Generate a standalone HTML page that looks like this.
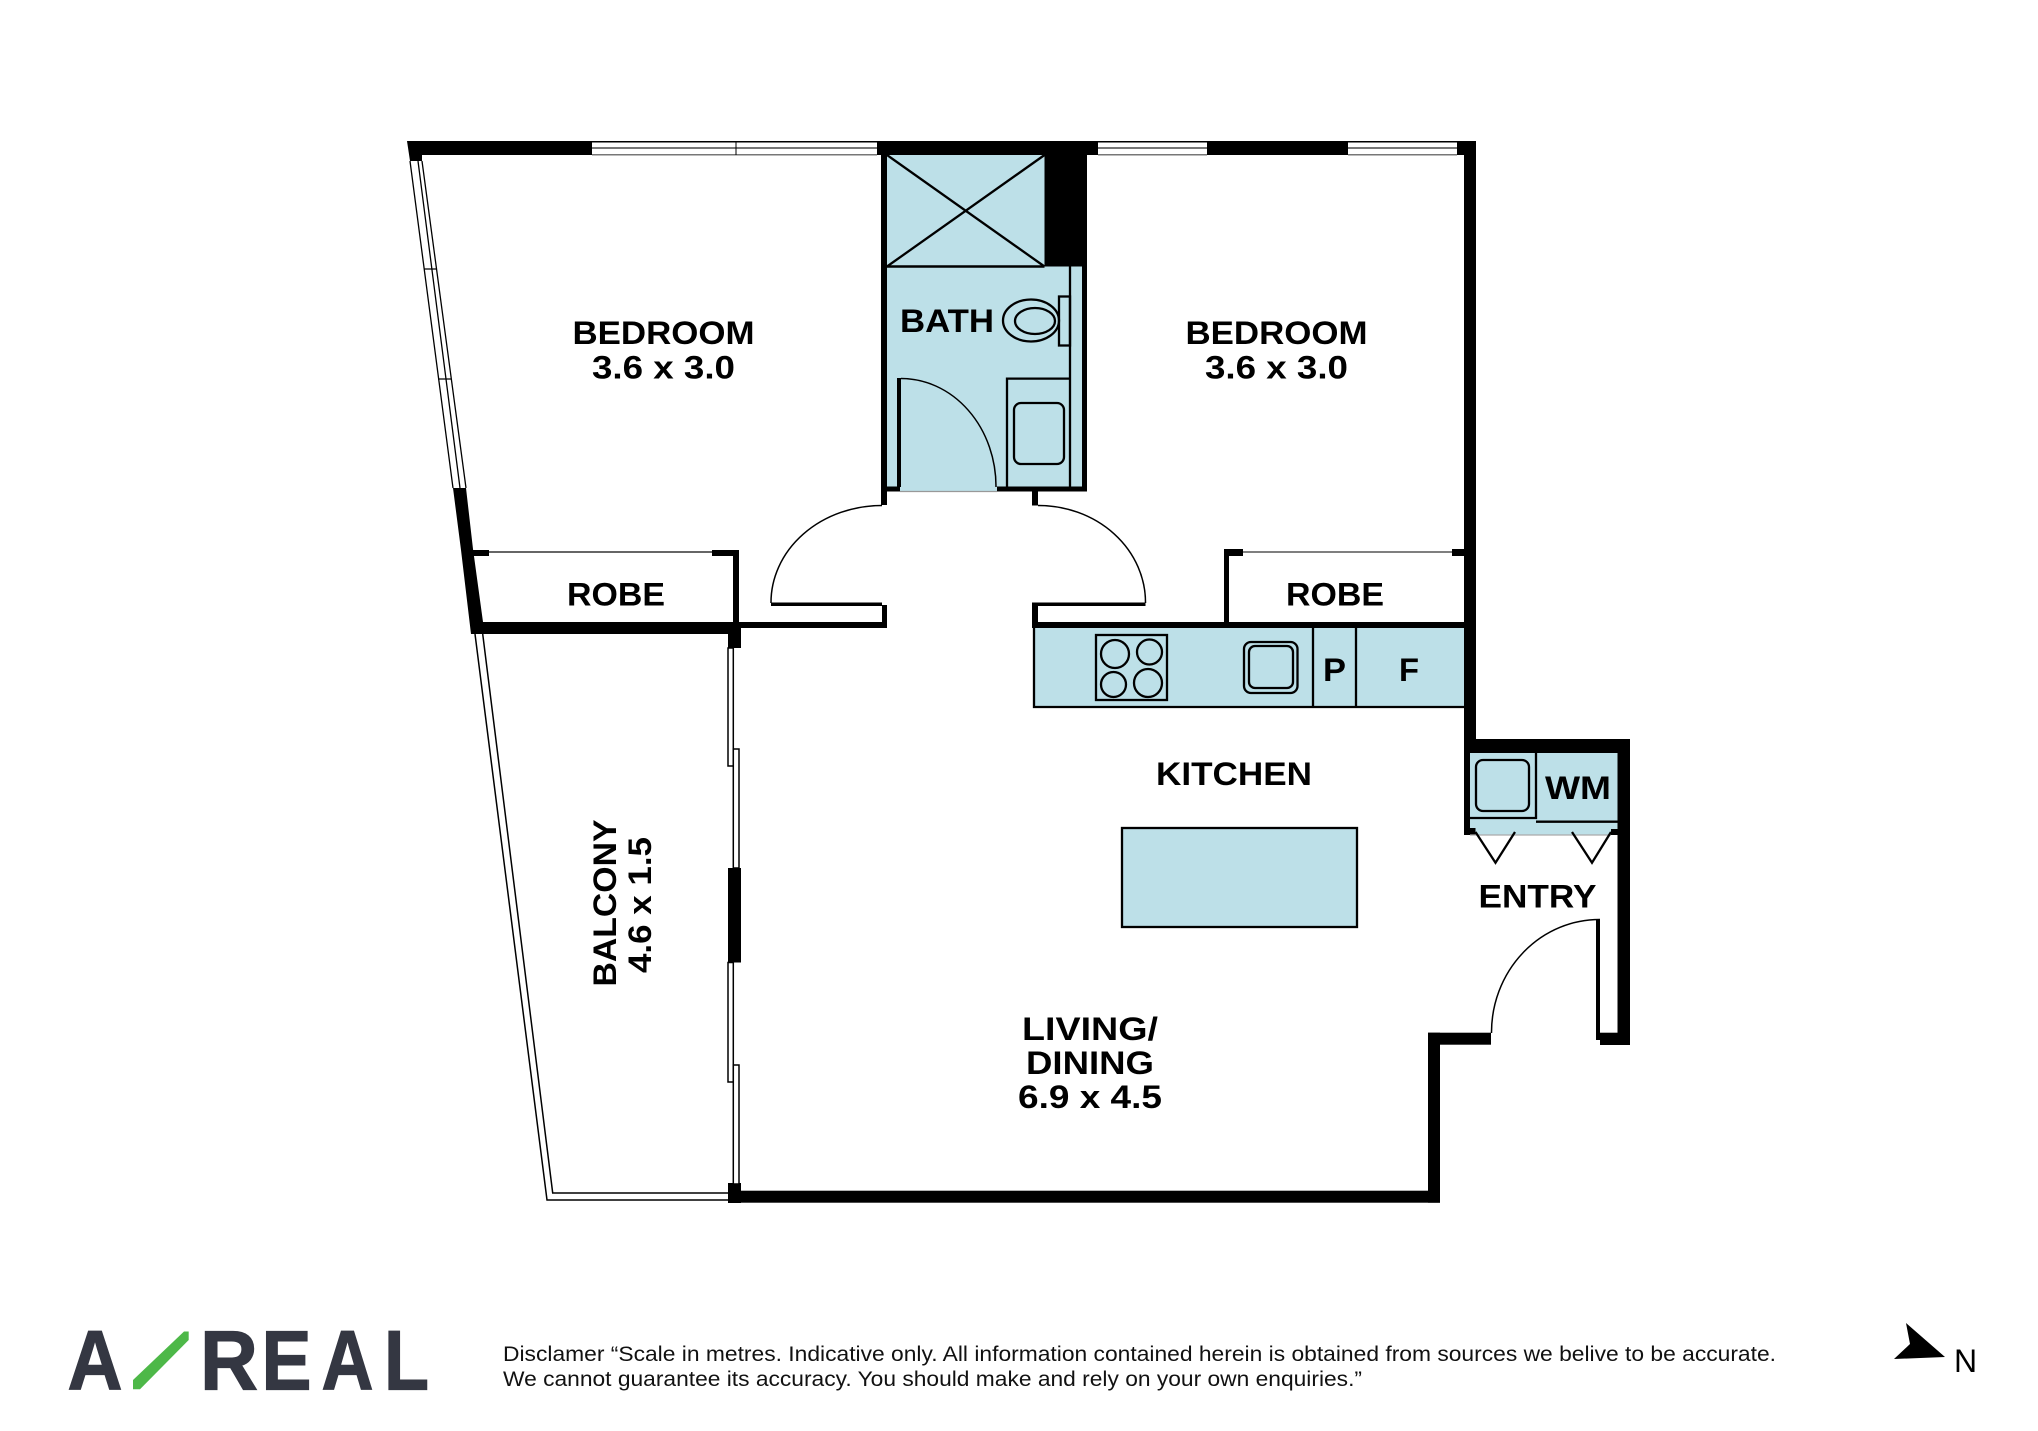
<!DOCTYPE html>
<html><head><meta charset="utf-8"><style>
html,body{margin:0;padding:0;background:#fff}
svg{display:block}
text{font-family:"Liberation Sans",sans-serif}
.l{font-weight:700;font-size:32.7px;fill:#000}
.k{font-weight:700;font-size:84px;fill:#343742;stroke:#343742;stroke-width:1.2px}
.d{font-size:21.5px;fill:#111}
</style></head><body>
<svg width="2038" height="1431" viewBox="0 0 2038 1431" xmlns="http://www.w3.org/2000/svg">
<rect width="2038" height="1431" fill="#fff"/>

<!-- blue fills -->
<g fill="#bde0e8">
<rect x="881" y="155" width="206" height="336.5"/>
<rect x="1034" y="627" width="430" height="80"/>
<rect x="1122" y="828" width="235" height="99"/>
<rect x="1470" y="752" width="148" height="83"/>
</g>

<!-- top windows -->
<g>
<rect x="592" y="141" width="285" height="14" fill="#fff"/>
<rect x="1098" y="141" width="109" height="14" fill="#fff"/>
<rect x="1348" y="141" width="109" height="14" fill="#fff"/>
<g fill="#000"><rect x="592" y="141" width="285" height="1.5"/><rect x="1098" y="141" width="109" height="1.5"/><rect x="1348" y="141" width="109" height="1.5"/></g>
<g fill="#777">
<rect x="592" y="147" width="285" height="2"/><rect x="592" y="154" width="285" height="1.5"/>
<rect x="1098" y="147" width="109" height="2"/><rect x="1098" y="154" width="109" height="1.5"/>
<rect x="1348" y="147" width="109" height="2"/><rect x="1348" y="154" width="109" height="1.5"/>
</g>
<rect x="735.5" y="141" width="1" height="14" fill="#000"/>
</g>

<!-- left angled window -->
<g stroke="#000" stroke-width="1.3" fill="none">
<path d="M410 161L453 488M418 161L460 488M422 161L466 488"/>
<path d="M424 269L437 269M438 379L451 379"/>
</g>

<!-- solid walls -->
<g fill="#000">
<polygon points="407,141 592,141 592,155 422,155 422,161 410,161"/>
<rect x="877" y="141" width="221" height="14"/>
<rect x="1207" y="141" width="141" height="14"/>
<rect x="1457" y="141" width="19" height="14"/>
<polygon points="453,488 466,488 473,549 483,622 483,634 471,634 461,550"/>
<!-- robe 1 -->
<rect x="471" y="622" width="268" height="12"/>
<rect x="473" y="550" width="16" height="6"/>
<rect x="712" y="550" width="27" height="6"/>
<rect x="733" y="550" width="6" height="75"/>
<rect x="728" y="622" width="13" height="26"/>
<rect x="741" y="622" width="146" height="6"/>
<rect x="882" y="605" width="5" height="23"/>
<rect x="771" y="602.5" width="111" height="3.5"/>
<!-- bath -->
<rect x="881" y="155" width="6" height="350"/>
<rect x="1044.5" y="155" width="42.5" height="111.5"/>
<rect x="1082" y="266" width="5" height="225.5"/>
<rect x="881" y="486.5" width="19" height="5"/>
<rect x="997" y="486.5" width="90" height="5"/>
<rect x="897" y="378" width="4" height="109"/>
<!-- right door jamb -->
<rect x="1032" y="491" width="6" height="14.5"/>
<rect x="1032" y="602.5" width="113.5" height="3.5"/>
<rect x="1032" y="604" width="6" height="24"/>
<rect x="1032" y="622" width="432" height="6"/>
<!-- robe 2 -->
<rect x="1224" y="549" width="5" height="75"/>
<rect x="1224" y="549" width="19" height="7"/>
<rect x="1452" y="549" width="12" height="7"/>
<!-- right wall -->
<rect x="1464" y="141" width="12" height="612"/>
<rect x="1464" y="739" width="166" height="14"/>
<rect x="1464" y="739" width="6" height="96"/>
<rect x="1464" y="828" width="11.5" height="7"/>
<rect x="1611" y="829" width="19" height="6"/>
<rect x="1617.5" y="739" width="12.5" height="306"/>
<rect x="1600" y="1032.7" width="30" height="12.3"/>
<rect x="1596" y="919" width="4" height="121"/>
<rect x="1428" y="1032.7" width="63" height="12"/>
<rect x="1428" y="1032.7" width="12" height="170"/>
<rect x="728" y="1190.7" width="712" height="12"/>
<rect x="728" y="1183" width="13" height="20"/>
<rect x="728" y="868" width="13" height="94.5"/>
</g>

<!-- thin lines -->
<g fill="none" stroke="#000" stroke-width="1.5">
<path d="M489 552H712" stroke="#333"/>
<path d="M1243 552H1452" stroke="#555"/>
<path d="M771 603A111 97 0 0 1 882 505.5"/>
<path d="M1038 505.5A107 97 0 0 1 1145.5 603"/>
<path d="M901 378.5A95 108 0 0 1 996 487"/>
<path d="M1600 919.5A108 113 0 0 0 1491.5 1033"/>
</g>
<path d="M900 491.5H997" stroke="#999" stroke-width="1.2"/>
<path d="M1470 835H1611" stroke="#aaa" stroke-width="1.2"/>

<!-- bath fixtures -->
<g fill="none" stroke="#000" stroke-width="2.3">
<path d="M887 155L1044.5 266.5M1044.5 155L887 266.5"/>
<path d="M887 266.5H1044.5" stroke-width="2.6"/>
<path d="M1070 266V487"/>
<rect x="1059" y="296.5" width="11" height="49"/>
<ellipse cx="1031" cy="320.5" rx="28" ry="21"/>
<ellipse cx="1035" cy="321" rx="20" ry="13"/>
<path d="M1007 487V378.6H1070"/>
<rect x="1014" y="403" width="50" height="61" rx="7"/>
</g>

<!-- kitchen fixtures -->
<g fill="none" stroke="#000" stroke-width="2.3">
<path d="M1034 627V707H1464"/>
<path d="M1313 627V707M1356 627V707"/>
<rect x="1096" y="635" width="71" height="65"/>
<circle cx="1115" cy="654" r="14"/><circle cx="1149.500" cy="652" r="12.500"/>
<circle cx="1113.500" cy="684.500" r="12.500"/><circle cx="1148" cy="683" r="14"/>
<rect x="1244" y="642" width="53.500" height="51" rx="7"/>
<rect x="1249" y="646" width="44" height="42" rx="6"/>
<rect x="1122" y="828" width="235" height="99"/>
<path d="M1470 818H1536V753M1536 821.700H1617.500"/>
<rect x="1476" y="760" width="53" height="51" rx="7"/>
<path d="M1475.500 832L1495.500 862.700L1515 832M1572 832L1592 862.700L1611 832"/>
</g>

<!-- balcony -->
<g fill="none" stroke="#000" stroke-width="1.500">
<path d="M475 634L547 1200H728"/>
<path d="M482.700 634L552.700 1193H728"/>
<rect x="728" y="648" width="5.300" height="118" fill="#fff"/>
<rect x="733.300" y="749" width="5.700" height="119" fill="#fff"/>
<rect x="728" y="962.500" width="5.300" height="119.500" fill="#fff"/>
<rect x="733.300" y="1065" width="5.700" height="119" fill="#fff"/>
</g>

<!-- labels -->
<text class="l" x="572.500" y="344" textLength="182" lengthAdjust="spacingAndGlyphs">BEDROOM</text>
<text class="l" x="592" y="378.500" textLength="143" lengthAdjust="spacingAndGlyphs">3.6 x 3.0</text>
<text class="l" x="1185.500" y="344" textLength="182" lengthAdjust="spacingAndGlyphs">BEDROOM</text>
<text class="l" x="1205" y="378.500" textLength="143" lengthAdjust="spacingAndGlyphs">3.6 x 3.0</text>
<text class="l" x="567" y="605.500" textLength="98" lengthAdjust="spacingAndGlyphs">ROBE</text>
<text class="l" x="1286" y="605.500" textLength="98" lengthAdjust="spacingAndGlyphs">ROBE</text>
<text class="l" x="900" y="332" textLength="94" lengthAdjust="spacingAndGlyphs">BATH</text>
<text class="l" x="1323" y="681" textLength="23" lengthAdjust="spacingAndGlyphs">P</text>
<text class="l" x="1399" y="681" textLength="20" lengthAdjust="spacingAndGlyphs">F</text>
<text class="l" x="1156" y="785" textLength="156" lengthAdjust="spacingAndGlyphs">KITCHEN</text>
<text class="l" x="1545" y="799" textLength="66" lengthAdjust="spacingAndGlyphs">WM</text>
<text class="l" x="1478.500" y="907.700" textLength="118" lengthAdjust="spacingAndGlyphs">ENTRY</text>
<text class="l" x="1022" y="1040" textLength="136" lengthAdjust="spacingAndGlyphs">LIVING/</text>
<text class="l" x="1026" y="1074" textLength="128" lengthAdjust="spacingAndGlyphs">DINING</text>
<text class="l" x="1018" y="1108" textLength="144" lengthAdjust="spacingAndGlyphs">6.9 x 4.5</text>
<text class="l" transform="translate(616,986.500) rotate(-90)" x="0" y="0" textLength="167" lengthAdjust="spacingAndGlyphs">BALCONY</text>
<text class="l" transform="translate(651,973) rotate(-90)" x="0" y="0" textLength="136" lengthAdjust="spacingAndGlyphs">4.6 x 1.5</text>

<!-- logo -->
<text class="k" x="67.500" y="1389.300" textLength="55" lengthAdjust="spacingAndGlyphs">A</text>
<polygon points="133,1380 184,1331.500 188.700,1331.500 188.700,1340 140,1389.300 133,1389.300" fill="#4db848"/>
<text class="k" x="200" y="1389.300" textLength="58" lengthAdjust="spacingAndGlyphs">R</text>
<text class="k" x="261.500" y="1389.300" textLength="50" lengthAdjust="spacingAndGlyphs">E</text>
<text class="k" x="321.500" y="1389.300" textLength="52" lengthAdjust="spacingAndGlyphs">A</text>
<text class="k" x="384" y="1389.300" textLength="45" lengthAdjust="spacingAndGlyphs">L</text>

<!-- disclaimer -->
<text class="d" x="503" y="1361" textLength="1273" lengthAdjust="spacingAndGlyphs">Disclamer “Scale in metres. Indicative only. All information contained herein is obtained from sources we belive to be accurate.</text>
<text class="d" x="503" y="1386" textLength="859" lengthAdjust="spacingAndGlyphs">We cannot guarantee its accuracy. You should make and rely on your own enquiries.”</text>

<!-- north -->
<polygon points="1906,1323 1945,1357 1894,1359 1910,1344" fill="#000"/>
<text x="1954" y="1372" font-size="32" fill="#000">N</text>
</svg>
</body></html>
